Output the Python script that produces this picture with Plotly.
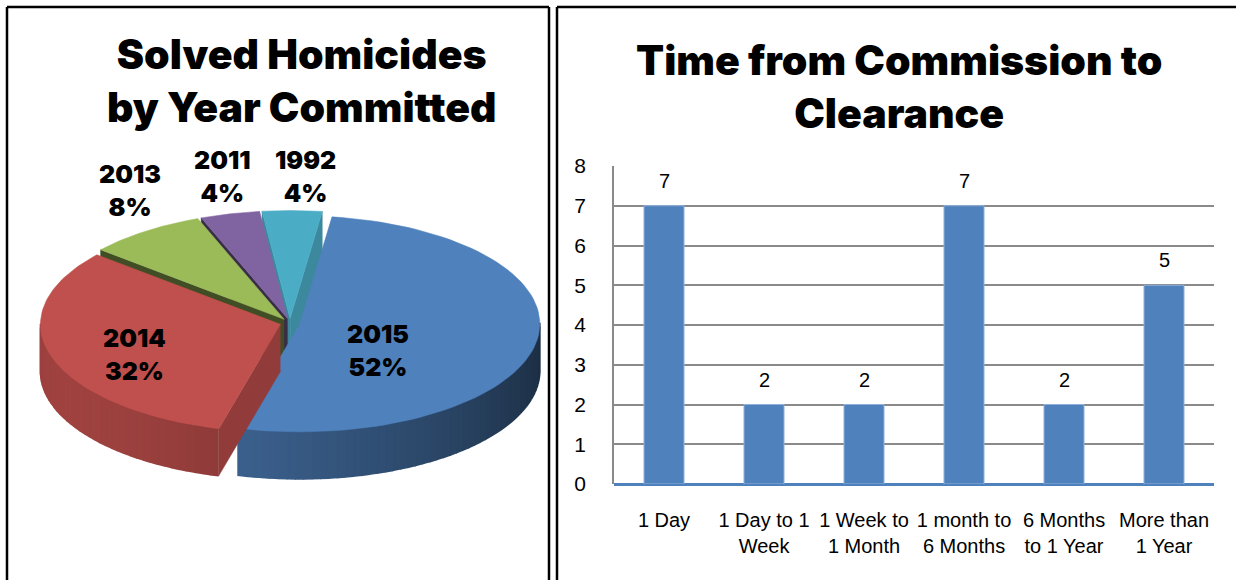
import numpy as np
import plotly.graph_objects as go

# ---------------- data ----------------
pie_labels = ["2015", "2014", "2013", "2011", "1992"]
pie_values = [52, 32, 8, 4, 4]
pie_colors = ["#4F81BD", "#C0504D", "#9BBB59", "#8064A2", "#4BACC6"]

bar_categories = ["1 Day", "1 Day to 1<br>Week", "1 Week to<br>1 Month",
                  "1 month to<br>6 Months", "6 Months<br>to 1 Year", "More than<br>1 Year"]
bar_values = [7, 2, 2, 7, 2, 5]
y_ticks = [0, 1, 2, 3, 4, 5, 6, 7, 8]

pie_title = "Solved Homicides<br>by Year Committed"
bar_title = "Time from Commission to<br>Clearance"

# ---------------- layout / style constants ----------------
W, H = 1236, 580
CX, CY, RX, RY = 290.0, 323.0, 240.0, 108.0
DEPTH = 47.0
PULL = 10.0
START = 7.7  # degrees clockwise from 12 o'clock
SIDE_SHADE = [0.6, 0.76, 0.42, 0.45, 0.8]
LABEL_XY = [(378, 350), (134, 354), (130, 190), (222, 176), (305, 176)]
HEAVY = "Inter, 'DejaVu Sans', sans-serif"
NARROW = "'Liberation Sans Narrow', 'Liberation Sans', sans-serif"


def rgb(hexc):
    hexc = hexc.lstrip("#")
    return [int(hexc[i:i + 2], 16) for i in (0, 2, 4)]


def shade(hexc, f):
    r, g, b = rgb(hexc)
    return "rgb(%d,%d,%d)" % (min(255, r * f), min(255, g * f), min(255, b * f))


def rim(sx, sy, th):
    t = np.radians(th)
    return sx + RX * np.sin(t), sy - RY * np.cos(t)


fig = go.Figure()


def poly(xs, ys, color, lw=0.8):
    fig.add_trace(go.Scatter(x=list(xs), y=list(ys), mode="lines", fill="toself",
                             fillcolor=color, line=dict(width=lw, color=color),
                             hoverinfo="skip", showlegend=False, xaxis="x", yaxis="y"))


# slice angles
total = float(sum(pie_values))
slices = []
acc = START
for i, v in enumerate(pie_values):
    th0 = acc
    th1 = acc + 360.0 * v / total
    acc = th1
    mid = np.radians((th0 + th1) / 2)
    sx = CX + PULL * np.sin(mid)
    sy = CY - PULL * np.cos(mid) * RY / RX
    slices.append(dict(i=i, th0=th0, th1=th1, sx=sx, sy=sy, depth=np.cos(mid)))

# draw back to front
Lx, Ly = -0.9, 0.45
for s in sorted(slices, key=lambda d: -d["depth"]):
    i, th0, th1, sx, sy = s["i"], s["th0"], s["th1"], s["sx"], s["sy"]
    col = pie_colors[i]
    # radial faces
    for th, nrm in ((th0, th0 - 90), (th1, th1 + 90)):
        if np.cos(np.radians(nrm)) < 0:
            rx_, ry_ = rim(sx, sy, th)
            poly([sx, rx_, rx_, sx], [sy, ry_, ry_ + DEPTH, sy + DEPTH],
                 shade(col, SIDE_SHADE[i]), 0.5)
    # outer wall (front-facing part), in small shaded segments
    ths = np.linspace(th0, th1, int((th1 - th0) / 2) + 2)
    for a, b in zip(ths[:-1], ths[1:]):
        m = (a + b) / 2
        if np.cos(np.radians(m)) < 0.02:
            nx, ny = np.sin(np.radians(m)), -np.cos(np.radians(m))
            f = 0.58 + 0.25 * (nx * Lx + ny * Ly)
            seg = np.linspace(a, b, 4)
            pts = [rim(sx, sy, t) for t in seg]
            xs = [p[0] for p in pts] + [p[0] for p in pts[::-1]]
            ys = [p[1] for p in pts] + [p[1] + DEPTH for p in pts[::-1]]
            poly(xs, ys, shade(col, f), 1.6)
    # top face
    arc = np.linspace(th0, th1, 80)
    pts = [rim(sx, sy, t) for t in arc]
    poly([sx] + [p[0] for p in pts] + [sx], [sy] + [p[1] for p in pts] + [sy], col, 0.5)

# bar chart
fig.add_trace(go.Bar(x=bar_categories, y=bar_values, marker=dict(color="#4F81BD",
                     line=dict(color="#8FB0DA", width=1)),
                     width=0.4, xaxis="x2", yaxis="y2", showlegend=False, hoverinfo="skip"))

ann = []
for (lx, ly), lab, v in zip(LABEL_XY, pie_labels, pie_values):
    ann.append(dict(x=lx, y=ly, xref="x", yref="y", text="%s<br>%d%%" % (lab, v),
                    showarrow=False, font=dict(family=HEAVY, size=25, color="black", weight=900)))
ann.append(dict(x=301, y=80, xref="x", yref="y", text=pie_title, showarrow=False,
                font=dict(family=HEAVY, size=41, color="black", weight=900)))
ann.append(dict(x=899, y=86, xref="x", yref="y", text=bar_title, showarrow=False,
                font=dict(family=HEAVY, size=41, color="black", weight=900)))
for c, v in zip(bar_categories, bar_values):
    ann.append(dict(x=c, y=v, xref="x2", yref="y2", text=str(v), showarrow=False,
                    yanchor="bottom", yshift=12, font=dict(family=NARROW, size=20, color="black")))

shapes = []
bk = dict(color="black", width=2.5)
for x0, y0, x1, y1 in [(7, 7, 7, 600), (7, 7, 549, 7), (549, 7, 549, 600),
                       (557, 7, 557, 600), (557, 7, 1240, 7)]:
    shapes.append(dict(type="line", xref="x", yref="y", x0=x0, y0=y0, x1=x1, y1=y1, line=bk))

fig.update_layout(
    width=W, height=H, margin=dict(l=0, r=0, t=0, b=0, autoexpand=False),
    paper_bgcolor="white", plot_bgcolor="rgba(0,0,0,0)",
    xaxis=dict(domain=[0, 1], range=[0, W], visible=False, fixedrange=True, automargin=False),
    yaxis=dict(domain=[0, 1], range=[H, 0], visible=False, fixedrange=True, automargin=False),
    xaxis2=dict(domain=[614 / W, 1214 / W], anchor="y2", showgrid=False, ticks="",
                showline=False, zeroline=False, ticklabelstandoff=22, automargin=False,
                tickfont=dict(family=NARROW, size=20, color="black")),
    yaxis2=dict(domain=[1 - 484 / H, 1 - 166 / H], anchor="x2", range=[0, 8],
                tickvals=y_ticks, showgrid=True, gridcolor="#8A8A8A", gridwidth=1.5,
                showline=True, linecolor="#8A8A8A", linewidth=1.5, ticks="", automargin=False,
                zeroline=True, zerolinecolor="#4F81BD", zerolinewidth=2.5,
                tickfont=dict(family=NARROW, size=21, color="black"), ticklabelstandoff=22),
    annotations=ann, shapes=shapes, bargap=0.6,
)

fig.write_html("out.html", config={"displayModeBar": False},
               post_script="document.body.style.margin='0';")
